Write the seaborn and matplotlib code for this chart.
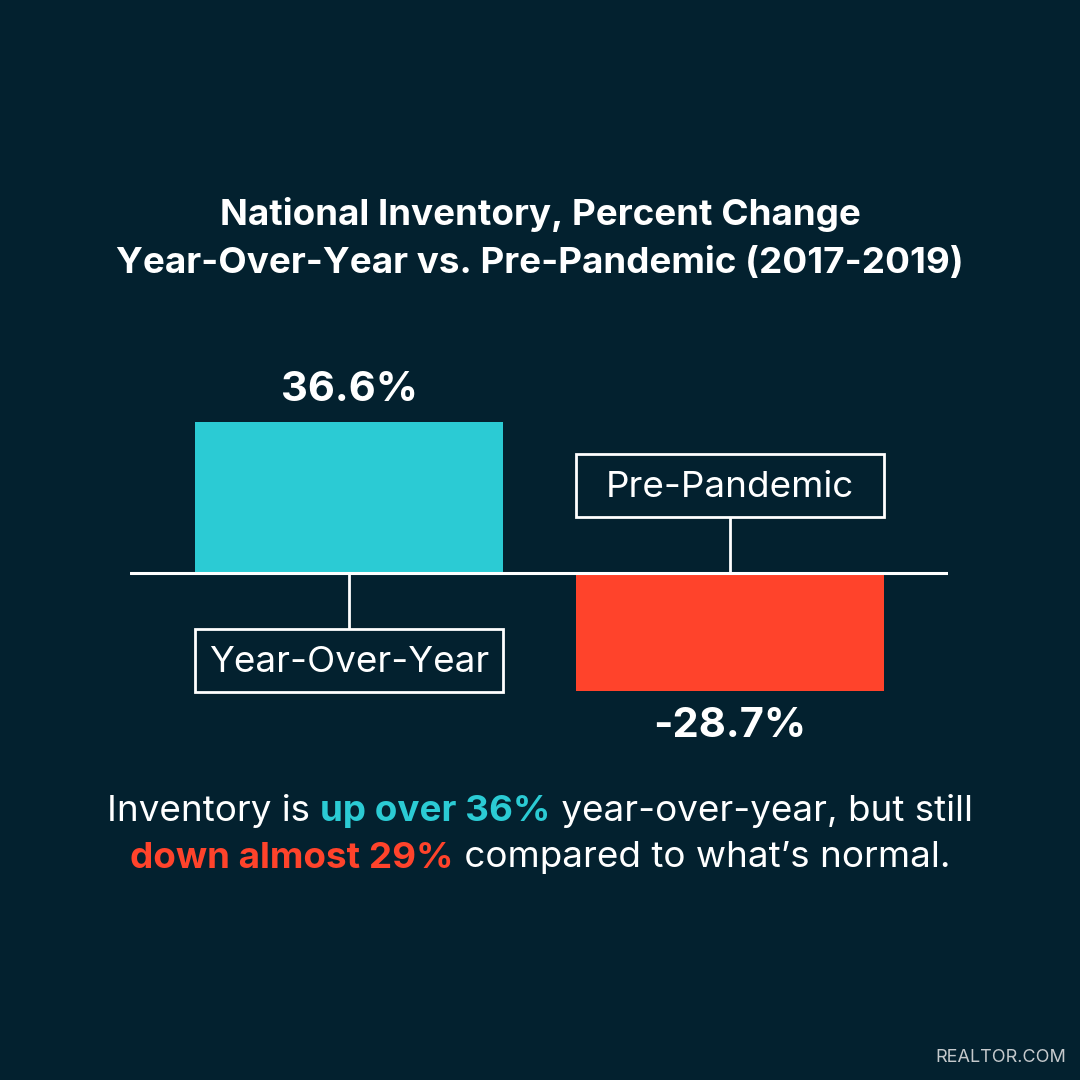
import matplotlib
matplotlib.use("Agg")
import matplotlib.pyplot as plt
import matplotlib.patches as mpatches
import seaborn as sns
import pandas as pd

# data
categories = ["Year-Over-Year", "Pre-Pandemic"]
values = [36.6, -28.7]
value_labels = ["36.6%", "-28.7%"]
bar_colors = ["#2BCBD4", "#FF432B"]

title_lines = ["National Inventory, Percent Change",
               "Year-Over-Year vs. Pre-Pandemic (2017-2019)"]
note_line1 = [("Inventory is ", "white", "normal"),
              ("up over 36%", "#2BCBD4", "bold"),
              (" year-over-year, but still", "white", "normal")]
note_line2 = [("down almost 29%", "#FF432B", "bold"),
              (" compared to what\u2019s normal.", "white", "normal")]
source = "REALTOR.COM"

BG = "#03212F"

sns.set_theme(style="white")
plt.rcParams["font.family"] = ["Inter", "DejaVu Sans"]

df = pd.DataFrame({"cat": categories, "val": values})

fig = plt.figure(figsize=(10.8, 10.8), dpi=100, facecolor=BG)
# axes placed in pixel terms: x 130..948, y 300..800 (from top)
ax = fig.add_axes([130 / 1080, 280 / 1080, 818 / 1080, 500 / 1080])
ax.set_facecolor(BG)

sns.barplot(data=df, x="cat", y="val", hue="cat", palette=bar_colors,
            width=0.808, legend=False, ax=ax, saturation=1, linewidth=0)

ax.set_xlim(-0.575, 1.572)
ax.set_ylim(-55.1, 66.3)
ax.axhline(0, color="white", lw=2.2, zorder=3)
ax.axis("off")

# value labels
for i, (v, lab) in enumerate(zip(values, value_labels)):
    off = 7.8 if v > 0 else -8.4
    ax.text(i, v + off, lab, ha="center", va="center", color="white",
            fontsize=30, fontweight="bold")

# category boxes with connectors
box_h = 15.1
gap = 13.7
for i, (v, cat) in enumerate(zip(values, categories)):
    sign = -1 if v > 0 else 1
    y0 = sign * gap
    y1 = sign * (gap + box_h)
    ax.plot([i, i], [0, y0], color="white", lw=2, solid_capstyle="butt", zorder=2)
    rect = mpatches.Rectangle((i - 0.404, min(y0, y1)), 0.808, box_h,
                              fill=False, edgecolor="white", lw=2, zorder=2)
    ax.add_patch(rect)
    ax.text(i, (y0 + y1) / 2 - 0.5, cat, ha="center", va="center", color="white",
            fontsize=26.5)

# title
fig.text(0.5, 1 - 215 / 1080, title_lines[0], ha="center", va="center",
         color="white", fontsize=26.5, fontweight="bold")
fig.text(0.5, 1 - 263 / 1080, title_lines[1], ha="center", va="center",
         color="white", fontsize=26.5, fontweight="bold")


def draw_line(y_px, parts, size=26.5):
    renderer = fig.canvas.get_renderer()
    texts = []
    widths = []
    for s, c, w in parts:
        t = fig.text(0, 1 - y_px / 1080, s, ha="left", va="center",
                     color=c, fontsize=size, fontweight=w)
        bb = t.get_window_extent(renderer)
        texts.append(t)
        widths.append(bb.width)
    total = sum(widths)
    x = (1080 - total) / 2
    for t, w in zip(texts, widths):
        t.set_x(x / 1080)
        x += w


draw_line(811, note_line1)
draw_line(858, note_line2)

fig.text(1001 / 1080, 1 - 1058 / 1080, source, ha="center", va="center",
         color="#C5C9CC", fontsize=13)

fig.savefig("out.png", dpi=100, facecolor=BG)
